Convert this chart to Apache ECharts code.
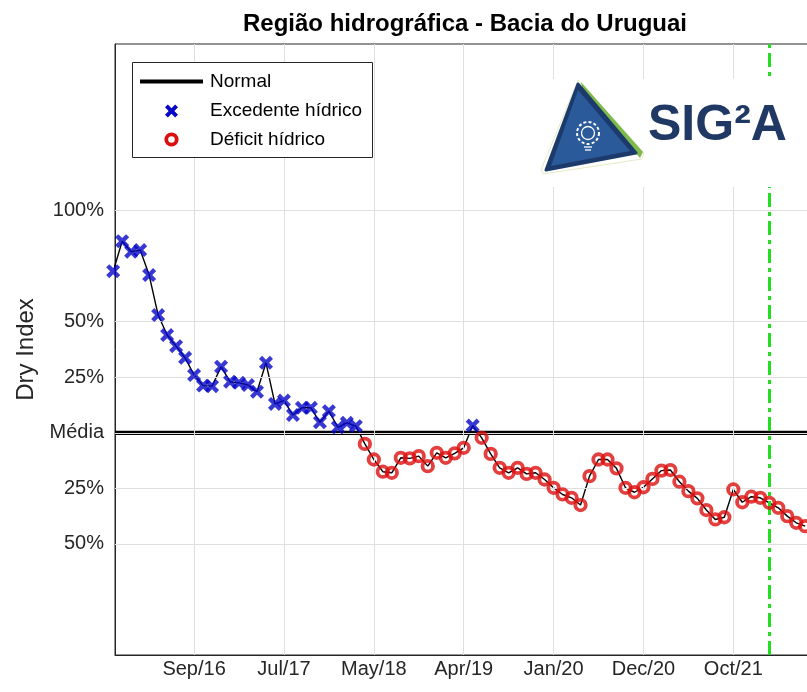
<!DOCTYPE html>
<html><head><meta charset="utf-8">
<script src="https://cdn.jsdelivr.net/npm/echarts@6/dist/echarts.min.js"></script>
<style>html,body{margin:0;padding:0;background:#fff}#c{width:807px;height:692px}</style>
</head><body><div id="c"></div><script>
// ---------- data ----------
const chartTitle = 'Região hidrográfica - Bacia do Uruguai';
const yAxisName = 'Dry Index';
const xTickPositions = [9, 19, 29, 39, 49, 59, 69];
const xTickLabels = ['Sep/16', 'Jul/17', 'May/18', 'Apr/19', 'Jan/20', 'Dec/20', 'Oct/21'];
const yTickValues = [-2, -1, 0, 1, 2, 4];
const yTickLabels = ['50%', '25%', 'Média', '25%', '50%', '100%'];
const legendLabels = ['Normal', 'Excedente hídrico', 'Déficit hídrico'];
// dry index per month (axis units: 1 = 25%)
const dryIndex = [
  2.91, 3.45, 3.26, 3.29, 2.84, 2.12, 1.76, 1.56, 1.35, 1.04,
  0.85, 0.84, 1.19, 0.92, 0.90, 0.86, 0.74, 1.26, 0.52, 0.58,
  0.32, 0.45, 0.45, 0.19, 0.39, 0.10, 0.18, 0.12, -0.20, -0.48,
  -0.70, -0.72, -0.45, -0.46, -0.42, -0.60, -0.36, -0.45, -0.37, -0.27,
  0.13, -0.09, -0.38, -0.63, -0.72, -0.63, -0.74, -0.72, -0.84, -0.99,
  -1.11, -1.17, -1.30, -0.78, -0.48, -0.48, -0.64, -0.99, -1.07, -0.98,
  -0.83, -0.68, -0.67, -0.88, -1.05, -1.18, -1.39, -1.56, -1.52, -1.02,
  -1.25, -1.15, -1.17, -1.26, -1.35, -1.50, -1.62, -1.68
];
const normalLevel = 0;
const markerIndex = 73;   // green dashed line position
const xMin = 0.2, xMax = 78.2, yMin = -4, yMax = 7;

// ---------- build ----------
const pts = dryIndex.map((v, i) => [i, v]);
const excess = pts.filter(p => p[1] >= normalLevel);
const deficit = pts.filter(p => p[1] < normalLevel);
const axisCol = '#262626';
const gridCol = '#dfdfdf';
const blue = '#0606c8';
const red = '#dc0f0f';
const xPoly = [[0,2.2],[2.2,0],[5,2.8],[7.8,0],[10,2.2],[7.2,5],[10,7.8],[7.8,10],[5,7.2],[2.2,10],[0,7.8],[2.8,5]];
const xPath = 'path://M' + xPoly.map(p => p.join(',')).join('L') + 'Z';
const font = '"Liberation Sans", Arial, Helvetica, sans-serif';

const chart = echarts.init(document.getElementById('c'), null, {renderer: 'canvas'});
const Z = 100;
chart.setOption({
  animation: false,
  backgroundColor: '#fff',
  title: {
    text: chartTitle, left: 460, top: 7, textAlign: 'center',
    textStyle: {fontFamily: font, fontSize: 24, fontWeight: 'bold', color: '#000'}
  },
  grid: {left: 115, top: 44, width: 701, height: 611, outerBoundsMode: 'none', containLabel: false,
         show: true, borderColor: axisCol, borderWidth: 1, backgroundColor: '#fff'},
  xAxis: {
    type: 'value', min: xMin, max: xMax,
    axisLine: {show: true, onZero: false, lineStyle: {color: axisCol, width: 1}},
    axisTick: {show: true, inside: true, length: 6, customValues: xTickPositions, lineStyle: {color: axisCol}},
    axisLabel: {
      customValues: xTickPositions, margin: 4, color: axisCol,
      fontFamily: font, fontSize: 20,
      formatter: v => xTickLabels[xTickPositions.indexOf(v)] || ''
    },
    splitLine: {show: false}
  },
  yAxis: {
    type: 'value', min: yMin, max: yMax,
    name: yAxisName, nameLocation: 'middle', nameGap: 75,
    nameTextStyle: {fontFamily: font, fontSize: 24, color: axisCol},
    axisLine: {show: true, onZero: false, lineStyle: {color: axisCol, width: 1}},
    axisTick: {show: true, inside: true, length: 6, customValues: yTickValues, lineStyle: {color: axisCol}},
    axisLabel: {
      customValues: yTickValues, margin: 11, color: axisCol,
      fontFamily: font, fontSize: 20,
      formatter: v => yTickLabels[yTickValues.indexOf(v)] || ''
    },
    splitLine: {show: false}
  },
  series: [
    { // grid lines
      type: 'line', data: [], z: 1, silent: true,
      markLine: {
        silent: true, symbol: 'none', label: {show: false}, animation: false,
        lineStyle: {color: gridCol, width: 1, type: 'solid'},
        data: xTickPositions.map(v => ({xAxis: v})).concat(yTickValues.map(v => ({yAxis: v})))
      }
    },
    {
      name: legendLabels[0], type: 'line', z: 3, symbol: 'none',
      data: [[xMin, normalLevel], [xMax, normalLevel]],
      lineStyle: {color: '#000', width: 4.2}
    },
    {
      type: 'line', z: 4, symbol: 'none', data: pts,
      lineStyle: {color: '#000', width: 1.4},
      markLine: {
        silent: true, symbol: 'none', label: {show: false},
        lineStyle: {color: '#22dd22', width: 3, type: [14, 5, 4, 5]},
        data: [{xAxis: markerIndex}]
      }
    },
    {
      name: legendLabels[2], type: 'scatter', z: 5, data: deficit,
      symbol: 'circle', symbolSize: 10.5, clip: false,
      itemStyle: {color: 'rgba(0,0,0,0)', borderColor: red, borderWidth: 3.8}
    },
    {
      name: legendLabels[1], type: 'scatter', z: 6, data: excess,
      symbol: xPath, symbolSize: 14, clip: false,
      itemStyle: {color: blue}
    }
  ],
  graphic: [
    // legend box
    {type: 'rect', z: Z, shape: {x: 132.5, y: 62.5, width: 240, height: 95}, style: {fill: '#fff', stroke: axisCol, lineWidth: 1}},
    {type: 'line', z: Z + 1, shape: {x1: 140, y1: 81.5, x2: 203, y2: 81.5}, style: {stroke: '#000', lineWidth: 4.2}},
    {type: 'text', z: Z + 1, x: 210, y: 81.5, style: {text: legendLabels[0], fontFamily: font, fontSize: 19, fill: '#000', verticalAlign: 'middle'}},
    {type: 'polygon', z: Z + 1, shape: {points: xPoly}, x: 165, y: 104.5, scaleX: 1.3, scaleY: 1.3, style: {fill: blue}},
    {type: 'text', z: Z + 1, x: 210, y: 111, style: {text: legendLabels[1], fontFamily: font, fontSize: 19, fill: '#000', verticalAlign: 'middle'}},
    {type: 'circle', z: Z + 1, shape: {cx: 171.5, cy: 139.5, r: 5.2}, style: {fill: 'none', stroke: red, lineWidth: 3.8}},
    {type: 'text', z: Z + 1, x: 210, y: 139.5, style: {text: legendLabels[2], fontFamily: font, fontSize: 19, fill: '#000', verticalAlign: 'middle'}},
    // logo
    {type: 'rect', z: Z, shape: {x: 540, y: 79, width: 280, height: 108}, style: {fill: '#fff'}},
    {type: 'polygon', z: Z + 1, shape: {points: [[578, 80], [644, 153], [642, 159], [543, 174], [541, 170]]}, style: {fill: '#fff', stroke: '#e4ebc4', lineWidth: 1}},
    {type: 'polygon', z: Z + 2, shape: {points: [[581, 82], [643, 152], [640, 158], [583, 92]]}, style: {fill: '#7dba4a'}},
    {type: 'polygon', z: Z + 3, shape: {points: [[578, 84], [636, 153], [546, 170]]}, style: {fill: '#1c3a6b', stroke: '#1c3a6b', lineWidth: 3, lineJoin: 'round'}},
    {type: 'polygon', z: Z + 4, shape: {points: [[578, 90], [630, 151], [551, 166]]}, style: {fill: '#2b5a9a'}},
    {type: 'circle', z: Z + 5, shape: {cx: 588, cy: 133, r: 11}, style: {fill: 'none', stroke: '#fff', lineWidth: 2, lineDash: [3, 2.2]}},
    {type: 'circle', z: Z + 5, shape: {cx: 588, cy: 133, r: 6.5}, style: {fill: 'none', stroke: '#fff', lineWidth: 1.3}},
    {type: 'line', z: Z + 5, shape: {x1: 584, y1: 147, x2: 592, y2: 147}, style: {stroke: '#fff', lineWidth: 1.3}},
    {type: 'line', z: Z + 5, shape: {x1: 585, y1: 150, x2: 591, y2: 150}, style: {stroke: '#fff', lineWidth: 1.3}},
    {type: 'text', z: Z + 5, x: 648, y: 126, style: {text: 'SIG²A', fontFamily: font, fontSize: 50, fontWeight: 'bold', fill: '#1f3864', verticalAlign: 'middle'}}
  ]
});
</script></body></html>
